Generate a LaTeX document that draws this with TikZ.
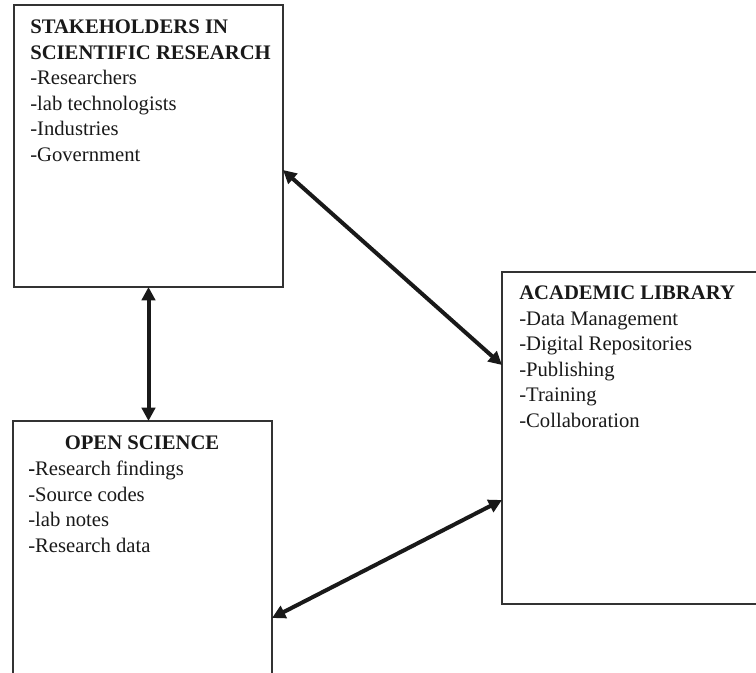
\documentclass[tikz,border=0pt]{standalone}
\usepackage{fontspec}
\setmainfont{Liberation Serif}
\usetikzlibrary{arrows.meta}

\tikzset{
  box/.style={draw=black!80, line width=0.9pt, inner sep=0pt, outer sep=0pt},
  txt/.style={inner sep=0pt, align=left, anchor=north west,
    font=\fontsize{15.5}{19.1}\selectfont, text=black!90},
  link/.style={line width=3pt, draw=black!90,
    {Triangle[length=10pt,width=10pt]}-{Triangle[length=10pt,width=10pt]}}
}

\begin{document}
\begin{tikzpicture}[x=0.75pt, y=-0.75pt]
    \useasboundingbox (0,0) rectangle (756,673);
    \clip (0,0) rectangle (756,673);
    % the three boxes (two run off the page)
    \node[box, minimum width=201.75pt, minimum height=211.5pt] (stake) at (148.5,146) {};
    \node[box, minimum width=194.25pt, minimum height=209.25pt] (open) at (142.5,560.5) {};
    \node[box, minimum width=193.5pt, minimum height=249pt] (lib) at (631,438) {};

    % texts in the boxes
    \node[txt] (staketext) at (30,20)
      {\textbf{STAKEHOLDERS IN}\\\textbf{SCIENTIFIC RESEARCH}\\-Researchers\\-lab technologists\\-Industries\\-Government};
    \node[txt, anchor=north] (opentitle) at (142,436) {\textbf{OPEN SCIENCE}};
    \node[txt] (opentext) at (28,461)
      {\textbf{-}Research findings\\-Source codes\\-lab notes\\-Research data};
    \node[txt] (libtext) at (519,286)
      {\textbf{ACADEMIC LIBRARY}\\-Data Management\\-Digital Repositories\\-Publishing\\-Training\\-Collaboration};

    % two-way links
    \draw[link] (stake.south) -- (stake.south |- open.north);
    \draw[link] (stake.east |- 0,170) -- (lib.west |- 0,365);
    \draw[link] (lib.west |- 0,500) -- (open.east |- 0,618);
\end{tikzpicture}
\end{document}
